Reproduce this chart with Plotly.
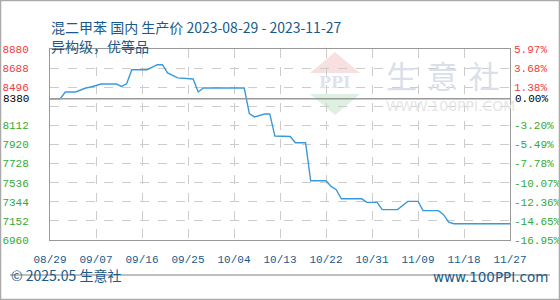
import plotly.graph_objects as go

# ---------------- data ----------------
dates = ['2023-08-29', '2023-08-31', '2023-09-01', '2023-09-03', '2023-09-05',
         '2023-09-06', '2023-09-08', '2023-09-11', '2023-09-12', '2023-09-13',
         '2023-09-14', '2023-09-17', '2023-09-19', '2023-09-20', '2023-09-21',
         '2023-09-23', '2023-09-26', '2023-09-27', '2023-09-28', '2023-10-06',
         '2023-10-07', '2023-10-08', '2023-10-10', '2023-10-11', '2023-10-12',
         '2023-10-15', '2023-10-16', '2023-10-18', '2023-10-19', '2023-10-22',
         '2023-10-23', '2023-10-24', '2023-10-25', '2023-10-29', '2023-10-30',
         '2023-11-01', '2023-11-02', '2023-11-05', '2023-11-07', '2023-11-09',
         '2023-11-10', '2023-11-13', '2023-11-14', '2023-11-15', '2023-11-16',
         '2023-11-27']
prices = [8380, 8380, 8448, 8448, 8488,
          8498, 8528, 8528, 8504, 8530,
          8672, 8672, 8722, 8722, 8639,
          8590, 8579, 8448, 8488, 8488,
          8230, 8197, 8227, 8227, 8005,
          8000, 7938, 7938, 7555, 7555,
          7499, 7466, 7374, 7374, 7338,
          7338, 7265, 7265, 7348, 7348,
          7255, 7255, 7215, 7140, 7124,
          7124]

base_price = 8380
y_ticks = [6960, 7152, 7344, 7536, 7728, 7920, 8112, 8304, 8496, 8688, 8880]
y_tick_text = ['6960', '7152', '7344', '7536', '7728', '7920', '8112', '', '8496', '8688', '8880']
pct_tick_text = ['-16.95%', '-14.65%', '-12.36%', '-10.07%', '-7.78%', '-5.49%', '-3.20%', '',
                 '1.38%', '3.68%', '5.97%']
x_ticks = ['2023-08-29', '2023-09-07', '2023-09-16', '2023-09-25', '2023-10-04', '2023-10-13',
           '2023-10-22', '2023-10-31', '2023-11-09', '2023-11-18', '2023-11-27']
x_tick_text = ['08/29', '09/07', '09/16', '09/25', '10/04', '10/13',
               '10/22', '10/31', '11/09', '11/18', '11/27']

title_line1 = '混二甲苯 国内 生产价 2023-08-29 - 2023-11-27'
title_line2 = '异构级，优等品'
footer_left = '© 2025.05 生意社'
footer_right = 'www.100PPI.com'

# ---------------- style ----------------
W, H = 560, 300
L, R, T, B = 50, 510, 49, 240
RED, GREEN, BLACK = '#f03c3c', '#33aa33', '#000000'
BLUE_TXT = '#1a5a8a'
LINE = '#3a9ad9'
GRID = '#cccccc'
MONO = 'Liberation Mono, DejaVu Sans Mono, monospace'
CJK = 'Noto Sans CJK SC, Noto Sans, sans-serif'


def px(xp):
    return (xp - L) / (R - L)


def py(yp):
    return (B - yp) / (B - T)


def colored(text, v):
    if text == '':
        return ''
    c = RED if v > base_price else (GREEN if v < base_price else BLACK)
    return f'<span style="color:{c}">{text}</span>'


left_text = [colored(t, v) for t, v in zip(y_tick_text, y_ticks)]
right_text = [colored(t, v) for t, v in zip(pct_tick_text, y_ticks)]

fig = go.Figure()
fig.add_trace(go.Scatter(x=dates, y=prices, mode='lines',
                         line=dict(color=LINE, width=1.4), showlegend=False,
                         hoverinfo='x+y'))
# invisible trace for right axis
fig.add_trace(go.Scatter(x=[dates[0]], y=[prices[0]], yaxis='y2', mode='lines',
                         line=dict(width=0), showlegend=False, hoverinfo='skip'))

fig.update_layout(
    width=W, height=H,
    margin=dict(l=L, r=W - R, t=T, b=H - B, pad=0, autoexpand=False),
    paper_bgcolor='white', plot_bgcolor='white',
    xaxis=dict(type='date', range=[x_ticks[0], x_ticks[-1]],
               tickvals=x_ticks, ticktext=x_tick_text, automargin=False,
               showgrid=True, gridcolor=GRID, griddash='dash', gridwidth=1,
               showline=True, linecolor='#999999', linewidth=1, mirror=True,
               ticks='', ticklabelstandoff=9,
               tickfont=dict(family=MONO, size=11, color=BLUE_TXT),
               zeroline=False, fixedrange=True),
    yaxis=dict(range=[y_ticks[0], y_ticks[-1]], tickvals=y_ticks, ticktext=left_text,
               automargin=False,
               showgrid=True, gridcolor=GRID, griddash='dash', gridwidth=1,
               showline=True, linecolor='#999999', linewidth=1, mirror=True,
               ticks='', ticklabelstandoff=18,
               tickfont=dict(family=MONO, size=11, color=BLACK),
               zeroline=False, fixedrange=True),
    yaxis2=dict(range=[y_ticks[0], y_ticks[-1]], tickvals=y_ticks, ticktext=right_text,
                automargin=False,
                overlaying='y', side='right', showgrid=False, showline=False,
                ticks='', ticklabelstandoff=3,
                tickfont=dict(family=MONO, size=11, color=BLACK),
                zeroline=False, fixedrange=True),
)

# base line at base_price
fig.add_shape(type='line', xref='paper', yref='y', x0=0, x1=1, y0=base_price, y1=base_price,
              line=dict(color='#999999', width=1.5), layer='above')

# left label for base price and right label 0.00%
fig.add_annotation(xref='paper', yref='y', x=px(31), y=base_price, xanchor='right',
                   text=str(base_price), showarrow=False,
                   font=dict(family=MONO, size=11, color=BLACK))
fig.add_annotation(xref='paper', yref='y', x=px(513), y=base_price, xanchor='left',
                   text='0.00%', showarrow=False,
                   font=dict(family=MONO, size=11, color=BLACK))

# watermark logo
fig.add_shape(type='path', xref='paper', yref='paper', layer='below',
              path=f'M {px(310)},{py(73)} L {px(360)},{py(73)} L {px(335)},{py(52)} Z',
              fillcolor='#f9e0e0', line=dict(width=0))
fig.add_shape(type='path', xref='paper', yref='paper', layer='below',
              path=f'M {px(310)},{py(94)} L {px(360)},{py(94)} L {px(335)},{py(115)} Z',
              fillcolor='#def0e0', line=dict(width=0))
fig.add_annotation(xref='paper', yref='paper', x=px(335), y=py(82), yanchor='middle',
                   text='<b>PPI</b>', showarrow=False,
                   font=dict(family='DejaVu Serif, serif', size=16, color='#dde2ee'))
fig.add_annotation(xref='paper', yref='paper', x=px(385), y=py(74), xanchor='left', yanchor='middle',
                   text='生\u2004意\u2004社', showarrow=False, borderpad=0,
                   font=dict(family=CJK, size=31, color='#dadfea'))
fig.add_annotation(xref='paper', yref='paper', x=px(385), y=py(106), xanchor='left', yanchor='middle',
                   text='WWW.100PPI.COM', showarrow=False, borderpad=0,
                   font=dict(family='DejaVu Sans, sans-serif', size=14, color='#e6e6e6'))

# titles
fig.add_annotation(xref='paper', yref='paper', x=px(49), y=py(15), xanchor='left',
                   text=title_line1, showarrow=False,
                   font=dict(family=CJK, size=14, color=BLUE_TXT))
fig.add_annotation(xref='paper', yref='paper', x=px(49), y=py(34), xanchor='left',
                   text=title_line2, showarrow=False,
                   font=dict(family=CJK, size=14, color=BLUE_TXT))

# footer
fig.add_shape(type='line', xref='paper', yref='paper', x0=px(10), x1=px(550), y0=py(275), y1=py(275),
              line=dict(color='#aaaaaa', width=1.5))
fig.add_annotation(xref='paper', yref='paper', x=px(9), y=py(287), xanchor='left',
                   text=footer_left, showarrow=False,
                   font=dict(family=CJK, size=14, color=BLUE_TXT))
fig.add_annotation(xref='paper', yref='paper', x=px(550), y=py(287), xanchor='right',
                   text=footer_right, showarrow=False,
                   font=dict(family='DejaVu Sans, sans-serif', size=13.5, color=BLUE_TXT))

# outer border
fig.add_shape(type='rect', xref='paper', yref='paper', x0=px(0.5), x1=px(559.5), y0=py(0.5), y1=py(299.5),
              line=dict(color='#aaaaaa', width=1.5))

fig.write_html('out.html', config={'displayModeBar': False})
